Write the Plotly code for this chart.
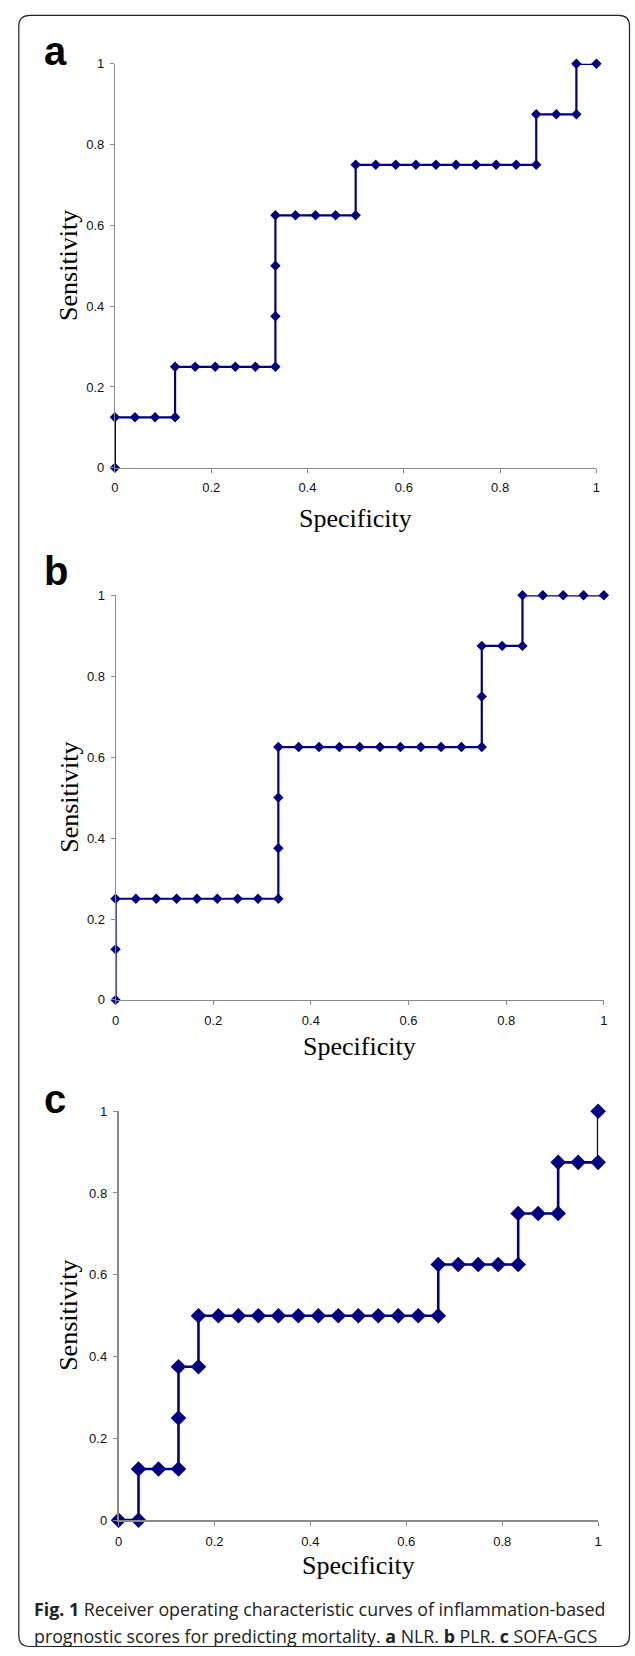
import plotly.graph_objects as go

W, H = 635, 1656

# ---------------- data ----------------
# x values expressed in 24ths (step 1/24), sensitivity in eighths
nlr_x24 = [0, 0, 1, 2, 3, 3, 4, 5, 6, 7, 8, 8, 8, 8, 9, 10, 11, 12, 12, 13, 14, 15, 16, 17,
           18, 19, 20, 21, 21, 22, 23, 23, 24]
nlr_y8 = [0, 1, 1, 1, 1, 2, 2, 2, 2, 2, 2, 3, 4, 5, 5, 5, 5, 5, 6, 6, 6, 6, 6, 6,
          6, 6, 6, 6, 7, 7, 7, 8, 8]

plr_x24 = [0, 0, 0, 1, 2, 3, 4, 5, 6, 7, 8, 8, 8, 8, 9, 10, 11, 12, 13, 14, 15, 16, 17,
           18, 18, 18, 19, 20, 20, 21, 22, 23, 24]
plr_y8 = [0, 1, 2, 2, 2, 2, 2, 2, 2, 2, 2, 3, 4, 5, 5, 5, 5, 5, 5, 5, 5, 5, 5,
          5, 6, 7, 7, 7, 8, 8, 8, 8, 8]

sofa_x24 = [0, 1, 1, 2, 3, 3, 3, 4, 4, 5, 6, 7, 8, 9, 10, 11, 12, 13, 14, 15, 16, 16,
            17, 18, 19, 20, 20, 21, 22, 22, 23, 24, 24]
sofa_y8 = [0, 0, 1, 1, 1, 2, 3, 3, 4, 4, 4, 4, 4, 4, 4, 4, 4, 4, 4, 4, 4, 5,
           5, 5, 5, 5, 6, 6, 6, 7, 7, 7, 8]

panel_letters = ["a", "b", "c"]
x_title = "Specificity"
y_title = "Sensitivity"
tick_vals = [0, 0.2, 0.4, 0.6, 0.8, 1]
tick_text = ["0", "0.2", "0.4", "0.6", "0.8", "1"]
caption_1 = "<b>Fig. 1</b> Receiver operating characteristic curves of inflammation-based"
caption_2 = "prognostic scores for predicting mortality. <b>a</b> NLR. <b>b</b> PLR. <b>c</b> SOFA-GCS"

series = [
    ([v / 24 for v in nlr_x24], [v / 8 for v in nlr_y8]),
    ([v / 24 for v in plr_x24], [v / 8 for v in plr_y8]),
    ([v / 24 for v in sofa_x24], [v / 8 for v in sofa_y8]),
]

# ---------------- layout helpers (pixel -> paper) ----------------
def px(x):
    return x / W

def py(y):
    return 1 - y / H

# plot boxes in pixels: (left, right, top, bottom)
boxes = [
    (112.3, 600.0, 57.3, 465.0),
    (113.0, 607.5, 593.7, 1002.0),
    (116.0, 601.7, 1114.3, 1527.0),
]
marker_sizes = [8, 8, 12]
line_widths = [2.2, 2.2, 2.6]
axis_widths = [1, 1, 1.6]
xtitle_y = [516, 1049, 1573]
letter_base = [59.3, 584, 1117]

navy = "#000080"
fig = go.Figure()
layout = dict(
    width=W, height=H,
    margin=dict(l=0, r=0, t=0, b=0),
    paper_bgcolor="white", plot_bgcolor="white",
    showlegend=False,
)
annotations = []
for i, ((xs, ys), (l, r, t, b)) in enumerate(zip(series, boxes)):
    xa = "x" if i == 0 else f"x{i+1}"
    ya = "y" if i == 0 else f"y{i+1}"
    fig.add_trace(go.Scatter(
        x=xs, y=ys, mode="lines+markers", xaxis=xa, yaxis=ya,
        line=dict(color=navy, width=line_widths[i]),
        marker=dict(symbol="diamond", size=marker_sizes[i], color=navy),
        cliponaxis=False, hoverinfo="x+y",
    ))
    axcommon = dict(
        range=[0, 1], showgrid=False, zeroline=False, showline=True,
        linecolor="#8a8a8a", linewidth=axis_widths[i],
        ticks="outside", ticklen=4, tickcolor="#8a8a8a", tickwidth=1,
        tickvals=tick_vals, ticktext=tick_text,
        tickfont=dict(family="Liberation Sans, Arial", size=13, color="#111"),
        fixedrange=True,
    )
    layout["xaxis" if i == 0 else f"xaxis{i+1}"] = dict(
        axcommon, domain=[px(l), px(r)], anchor=ya, ticklabelstandoff=4)
    layout["yaxis" if i == 0 else f"yaxis{i+1}"] = dict(
        axcommon, domain=[py(b), py(t)], anchor=xa, ticklabelstandoff=3)
    annotations.append(dict(
        text=y_title, textangle=-90, xref="paper", yref="paper",
        x=px(66), y=py((t + b) / 2), xanchor="center", yanchor="middle",
        showarrow=False, font=dict(family="Liberation Serif, Times New Roman", size=26, color="#000"),
    ))
    annotations.append(dict(
        text=x_title, xref="paper", yref="paper",
        x=px((l + r) / 2), y=py(xtitle_y[i]), xanchor="center", yanchor="middle",
        showarrow=False, font=dict(family="Liberation Serif, Times New Roman", size=26, color="#000"),
    ))
    annotations.append(dict(
        text=f"<b>{panel_letters[i]}</b>", xref="paper", yref="paper",
        x=px(38), y=py(letter_base[i] + 9), xanchor="left", yanchor="bottom",
        showarrow=False, font=dict(family="Liberation Sans, Arial", size=40, color="#000"),
    ))

annotations.append(dict(
    text=caption_1, xref="paper", yref="paper", x=px(28), y=py(1617),
    xanchor="left", yanchor="middle", showarrow=False, align="left",
    font=dict(family="Open Sans", size=17.8, color="#222"),
))
annotations.append(dict(
    text=caption_2, xref="paper", yref="paper", x=px(28), y=py(1644),
    xanchor="left", yanchor="middle", showarrow=False, align="left",
    font=dict(family="Open Sans", size=17.8, color="#222"),
))
layout["annotations"] = annotations

# rounded frame
L, R, T, B, rad = 15, 633.5, 8.5, 1654.5, 11
rx, ry = rad / W, rad / H
path = (f"M {px(L)+rx},{py(T)} L {px(R)-rx},{py(T)} Q {px(R)},{py(T)} {px(R)},{py(T)-ry} "
        f"L {px(R)},{py(B)+ry} Q {px(R)},{py(B)} {px(R)-rx},{py(B)} "
        f"L {px(L)+rx},{py(B)} Q {px(L)},{py(B)} {px(L)},{py(B)+ry} "
        f"L {px(L)},{py(T)-ry} Q {px(L)},{py(T)} {px(L)+rx},{py(T)} Z")
layout["shapes"] = [dict(type="path", path=path, xref="paper", yref="paper",
                         line=dict(color="#222", width=1.2), layer="below")]

fig.update_layout(**layout)
fig.write_html(
    "out.html",
    config={"displayModeBar": False},
    post_script="document.body.style.margin='0';document.body.style.overflow='hidden';",
)
